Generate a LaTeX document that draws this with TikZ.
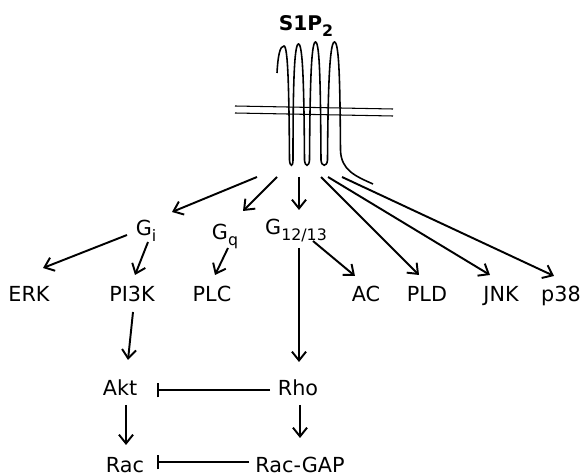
\documentclass[tikz,border=0pt]{standalone}
\usepackage{fontspec}
\setmainfont{DejaVu Sans}
\usetikzlibrary{calc,arrows.meta}
\newcommand{\gsub}[1]{\raisebox{-0.5ex}{\fontsize{9}{10}\selectfont#1}}
\tikzset{act/.style = {-{Straight Barb[length=5pt,width=8pt]}, line width=1.1pt}}
\tikzset{inh/.style = {-{Bar[width=8.5pt,line width=1.1pt]}, line width=1.1pt}}
\tikzset{lbl/.style = {inner sep = 0, text height = 8.6pt, text depth = 0pt, font=\fontsize{11.8}{13}\selectfont}}

\begin{document}
\begin{tikzpicture}[x=0.02cm, y=-0.02cm]
    \useasboundingbox (0,0) rectangle (582,476);
    % membrane and receptor
    \draw [line width=0.6pt] (235,106) -- (393,109);
    \draw [line width=0.6pt] (235,113) -- (393,116);
    \draw [line width=0.9pt] (277,73) .. controls (278,55) and (280,46) .. (284,46)
        .. controls (288,46) and (289,90) .. (289.5,160)
        .. controls (290,167) and (293,167) .. (293,160)
        .. controls (293,90) and (294,44) .. (298.5,44)
        .. controls (303,44) and (304,90) .. (304.5,160)
        .. controls (305,167) and (309,167) .. (309.5,160)
        .. controls (310,90) and (311,42) .. (315.5,42)
        .. controls (320,42) and (320.5,90) .. (321,160)
        .. controls (321.5,167) and (327,167) .. (327.5,160)
        .. controls (328,90) and (329.5,42) .. (334.5,42)
        .. controls (339.5,42) and (340,90) .. (340.5,150)
        .. controls (341,170) and (355,176) .. (373,184);
    \node [lbl, font=\fontsize{11.5}{13}\selectfont\bfseries] (s1p) at (306,23) {S1P\gsub{2}};
    \coordinate (r1) at (257,177);
    \coordinate (r2) at (277,177);
    \coordinate (r3) at (299,177);
    \coordinate (r4) at (321,177);
    \coordinate (r5) at (328,177);
    \coordinate (r6) at (342,177);
    % G proteins and effectors
    \node [lbl] (gi) at (146,228) {G\gsub{i}};
    \node [lbl] (gq) at (225,232) {G\gsub{q}};
    \node [lbl] (g1213) at (296,227) {G\gsub{12/13}};
    \node [lbl] (erk) at (29,294) {ERK};
    \node [lbl] (pi3k) at (132,294) {PI3K};
    \node [lbl] (plc) at (212,294) {PLC};
    \node [lbl] (ac) at (366,294) {AC};
    \node [lbl] (pld) at (427,294) {PLD};
    \node [lbl] (jnk) at (501,294) {JNK};
    \node [lbl] (p38) at (561,294) {p38};
    \node [lbl] (akt) at (120,388) {Akt};
    \node [lbl] (rho) at (298,388) {Rho};
    \node [lbl] (rac) at (125,465) {Rac};
    \node [lbl] (racgap) at (300,465) {Rac-GAP};
    \draw [act] (r1) -- ($(gi)+(26,-16)$);
    \draw [act] (r2) -- ($(gq)+(18,-21)$);
    \draw [act] (r3) -- ($(g1213)+(3,-17)$);
    \draw [act] (r4) -- ($(pld)+(-8,-19)$);
    \draw [act] (r5) -- ($(jnk)+(-11,-19)$);
    \draw [act] (r6) -- ($(p38)+(-7,-18)$);
    \draw [act] ($(gi)+(-19,7)$) -- ($(erk)+(14,-26)$);
    \draw [act] ($(gi)+(2,14)$) -- ($(pi3k)+(3,-19)$);
    \draw [act] ($(gq)+(3,16)$) -- ($(plc)+(3,-19)$);
    \draw [act] ($(g1213)+(17,14)$) -- ($(ac)+(-11,-18)$);
    \draw [act] ($(g1213)+(3,21)$) -- ($(rho)+(1,-26)$);
    \draw [act] ($(pi3k)+(1,18)$) -- ($(akt)+(8,-28)$);
    \draw [act] ($(rho)+(2,17)$) -- ($(racgap)+(0,-27)$);
    \draw [act] ($(akt)+(6,17)$) -- ($(rac)+(1,-20)$);
    \draw [inh] ($(rho)+(-28,2)$) -- ($(akt)+(37,2)$);
    \draw [inh] ($(racgap)+(-51,-3)$) -- ($(rac)+(32,-3)$);
\end{tikzpicture}
\end{document}
